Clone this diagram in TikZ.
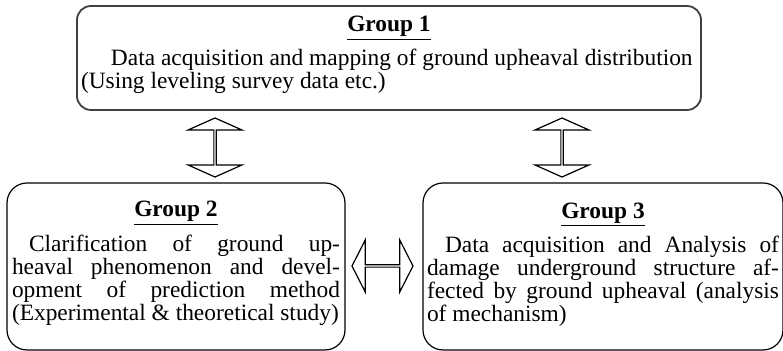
\documentclass[tikz,border=0pt]{standalone}
\usepackage{fontspec}
\setmainfont{Liberation Serif}
\usetikzlibrary{shapes.arrows, positioning}

\tikzset{
  grp/.style={draw, rounded corners=10pt, line width=0.6pt, align=justify,
    inner sep=2pt, font=\fontsize{11.7}{11.5}\selectfont},
  link/.style={draw, double arrow, double arrow head indent=0pt,
    line width=0.6pt, inner sep=0pt}
}
\newcommand{\grptitle}[1]{{\centering\textbf{\underline{#1}}\par}\vspace{3.5pt}}

\begin{document}
\begin{tikzpicture}[x=0.5pt, y=-0.5pt]
  \useasboundingbox (0,0) rectangle (783,351);
  % the three working groups
  \node[grp, draw=black!75, line width=0.9pt, rounded corners=7pt,
        text width=308pt, minimum width=312pt, minimum height=52pt] (g1) at (389,58)
    {\tolerance=10000 \grptitle{Group 1}\hspace*{15pt}Data acquisition and mapping of ground upheaval distribution\newline
     (Using leveling survey data etc.)\vspace{3pt}};
  \node[grp, text width=164pt, minimum width=169pt, minimum height=83.5pt] (g2) at (176,266.5)
    {\tolerance=10000 \grptitle{Group 2}\hspace*{8.5pt}Clarification of ground up-\linebreak
     heaval phenomenon and devel-\linebreak opment of prediction method\linebreak
     (Experimental \& theoretical study)\vspace{3pt}};
  \node[grp, text width=176pt, minimum width=179pt, minimum height=83.5pt] (g3) at (603,266.5)
    {\tolerance=10000 \grptitle{Group 3}\hspace*{9pt}Data acquisition and Analysis of\linebreak
     damage underground structure af-\linebreak fected by ground upheaval (analysis\linebreak
     of mechanism)\vspace{2pt}};
  % exchange arrows
  \node[link, rotate=90, minimum height=29.5pt, minimum width=27pt,
        double arrow head extend=6.75pt, double arrow tip angle=132] (a12) at (215,147.5) {};
  \node[link, rotate=90, minimum height=29.5pt, minimum width=27pt,
        double arrow head extend=6.75pt, double arrow tip angle=132] (a13) at (562,147.5) {};
  \node[link, minimum height=30.5pt, minimum width=26pt,
        double arrow head extend=6.5pt, double arrow tip angle=126] (a23) at (382.5,266) {};
\end{tikzpicture}
\end{document}
